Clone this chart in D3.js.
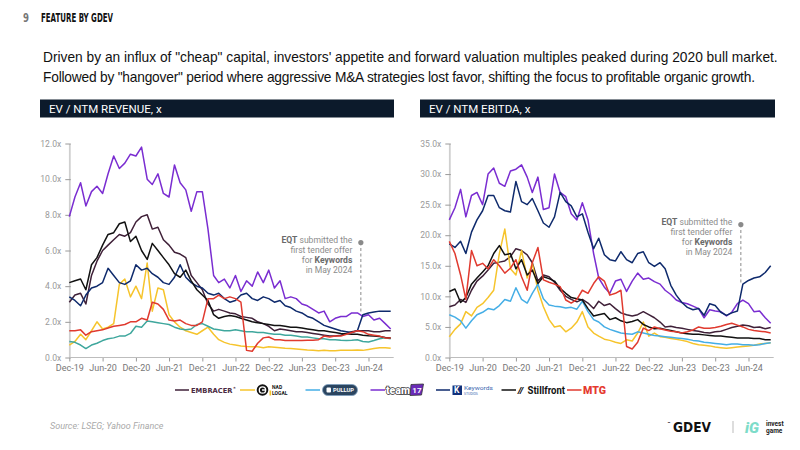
<!DOCTYPE html>
<html><head><meta charset="utf-8">
<script src="https://cdn.jsdelivr.net/npm/d3@7/dist/d3.min.js"></script>
<style>
body{margin:0;background:#fff;}
svg{display:block;font-family:Roboto,"Liberation Sans",Arial,sans-serif;}
</style></head><body>
<svg id="c" width="800" height="450"></svg>
<script>
// ---------------- DATA ----------------
const startDate = new Date(2019, 11, 1);
const dates = d3.timeMonth.range(startDate, new Date(2024, 10, 1)); // Dec-19 .. Oct-24 (59 points)
const tickLabels = ["Dec-19","Jun-20","Dec-20","Jun-21","Dec-21","Jun-22","Dec-22","Jun-23","Dec-23","Jun-24"];
const revTicks = [0, 2, 4, 6, 8, 10, 12];
const ebitdaTicks = [0, 5, 10, 15, 20, 25, 30, 35];
const companies = ["Embracer", "Enad Global 7", "Pullup", "team17", "Keywords Studios", "Stillfront", "MTG"];

// EV / NTM Revenue (x)
const revEmbracer = [3.1,3.5,3.6,3.0,4.6,5.4,6.0,6.3,6.6,6.9, 6.8,7.0,7.6,7.9,8.0,7.2,7.3,6.6,6.3,5.9, 5.8,5.6,4.6,4.2,3.8,3.0,2.6,2.7,2.6,2.5, 2.45,2.3,2.25,2.2,2.0,1.9,1.75,1.5,1.6,1.55, 1.5,1.45,1.45,1.4,1.35,1.3,1.25,1.2,1.2,1.25, 1.35,1.45,1.5,1.5,1.5,1.45,1.45,1.5,1.5];
const revEG7 = [0.7,0.9,1.3,1.0,1.5,2.0,1.6,1.7,1.9,4.1, 4.4,3.4,4.0,3.3,5.3,2.6,3.9,3.8,2.4,2.0, 1.7,1.5,1.4,1.3,1.5,1.7,1.3,1.0,0.85,0.75, 0.7,0.65,0.62,0.6,0.6,0.55,0.6,0.58,0.55,0.52, 0.5,0.48,0.45,0.42,0.4,0.38,0.4,0.38,0.38,0.4, 0.4,0.4,0.42,0.4,0.45,0.5,0.55,0.55,0.52];
const revPullup = [0.9,0.85,0.7,0.5,0.7,0.8,0.95,1.05,1.1,1.2, 1.2,1.35,1.75,1.7,2.05,2.0,1.95,1.9,1.85,1.7, 1.6,1.55,1.6,1.85,1.9,1.75,1.6,1.55,1.5,1.5, 1.55,1.5,1.45,1.45,1.4,1.4,1.35,1.3,1.3,1.25, 1.25,1.2,1.15,1.15,1.1,1.05,1.05,1.0,1.0,0.97, 0.96,0.97,1.0,0.9,0.87,0.95,1.05,1.1,1.05];
const revTeam17 = [7.9,9.0,9.8,8.5,9.3,9.6,9.2,10.3,11.3,10.6, 10.9,11.4,11.3,11.8,10.0,9.7,10.3,9.2,9.0,10.8, 9.8,9.4,8.2,9.3,9.3,7.2,4.6,4.2,4.4,3.9, 4.6,3.7,4.3,4.0,4.8,4.2,4.9,3.9,4.3,3.3, 3.4,3.3,3.0,2.9,2.7,2.5,2.6,2.0,2.2,2.3, 2.3,2.5,2.5,2.3,2.4,2.1,2.2,1.9,1.6];
const revKeywords = [3.4,3.2,2.9,3.5,3.9,4.0,4.2,5.0,4.6,4.2, 4.1,4.3,5.2,4.9,5.0,4.7,4.5,4.2,4.1,4.5, 5.2,4.5,4.2,4.0,3.9,3.6,3.5,3.6,3.3,3.1, 3.2,3.5,3.6,3.3,3.2,3.4,3.3,3.1,3.2,2.9, 2.8,2.6,2.5,2.3,2.2,2.0,1.8,1.7,1.6,1.5, 1.45,1.4,1.5,2.4,2.5,2.55,2.6,2.6,2.6];
const revStillfront = [4.2,4.3,4.4,3.8,5.2,5.6,6.3,6.9,7.0,7.5, 7.6,6.5,6.8,6.0,5.5,6.4,6.0,5.6,5.2,4.7, 4.5,4.9,4.3,3.8,3.5,3.2,2.4,2.2,2.3,2.35, 2.3,2.2,2.1,2.0,1.95,1.9,1.85,1.8,1.8,1.75, 1.7,1.7,1.65,1.6,1.55,1.5,1.5,1.45,1.4,1.35, 1.33,1.3,1.3,1.25,1.22,1.2,1.18,1.12,1.1];
const revMTG = [1.5,1.5,1.55,1.25,1.45,1.5,1.55,1.65,1.75,1.8, 1.85,2.0,2.0,2.2,2.1,3.1,3.0,2.7,2.1,2.05, 2.1,1.9,1.8,1.8,2.0,3.3,3.3,3.5,3.3,3.4, 3.3,3.1,0.4,0.35,0.8,1.1,1.15,1.0,1.0,0.95, 0.95,0.95,0.95,0.97,0.97,1.0,1.2,1.15,1.2,1.2, 1.3,1.4,1.5,1.45,1.3,1.25,1.2,1.1,1.1];

// EV / NTM EBITDA (x)
const ebEmbracer = [8.3,8.6,9.5,9.0,11.0,12.5,13.3,14.3,15.4,15.6, 15.8,16.5,17.8,17.5,16.8,15.5,12.5,13.5,13.2,12.3, 11.0,10.0,9.5,9.1,9.5,8.9,8.0,9.2,8.5,8.8, 8.0,7.3,7.0,6.8,7.0,7.5,7.0,6.5,5.8,5.0, 5.1,4.9,4.8,4.6,4.4,4.3,4.1,4.0,4.2,4.3, 4.6,4.9,5.1,5.3,5.2,4.9,5.0,4.7,4.9];
const ebEG7 = [3.4,4.6,5.5,7.5,6.8,8.2,8.8,9.8,11.0,17.0, 21.0,14.5,13.5,17.5,13.0,15.4,11.0,8.3,6.2,5.0, 5.2,4.2,4.8,5.8,7.5,5.0,4.0,3.5,3.0,2.8, 2.5,2.3,2.9,2.7,4.0,5.8,3.5,4.0,3.4,3.3, 3.1,3.0,2.8,2.6,2.3,2.1,2.0,1.9,1.7,1.6, 1.5,1.6,1.7,1.8,1.9,2.0,2.2,2.3,2.4];
const ebPullup = [7.0,6.6,6.0,4.8,6.0,7.0,7.4,8.0,7.8,8.5, 9.5,9.2,11.4,9.5,8.9,10.5,12.0,9.6,8.6,8.4, 8.3,8.1,8.2,7.9,9.2,7.5,6.2,5.8,5.0,4.6, 4.3,4.0,3.9,3.8,4.2,4.0,3.8,3.6,3.5,3.4, 3.3,3.2,3.1,3.0,2.8,2.7,2.5,2.4,2.3,2.2, 2.1,2.2,2.2,2.1,2.1,2.0,2.1,2.3,2.4];
const ebTeam17 = [22.5,24.5,27.5,23.0,26.5,27.0,25.0,30.0,31.0,28.5, 28.0,30.5,30.8,31.5,29.5,27.0,29.5,24.2,24.5,30.0, 27.0,26.3,23.5,22.5,25.3,22.5,17.0,13.0,11.5,10.5, 12.5,12.8,10.8,12.5,13.8,12.8,13.0,12.4,12.0,11.0, 10.3,9.4,9.0,8.8,8.4,8.0,6.5,7.8,7.6,7.5, 6.8,7.4,8.8,9.4,8.8,7.5,7.6,6.5,5.6];
const ebKeywords = [18.6,18.0,19.0,17.0,20.5,22.5,24.0,26.5,26.5,24.5, 24.0,23.8,28.8,25.5,25.0,26.0,24.0,22.0,21.3,23.0, 27.0,25.5,24.8,23.0,23.5,20.5,17.8,19.5,16.8,16.0, 15.8,17.3,16.0,15.5,17.0,17.3,15.5,14.9,15.5,14.5, 11.8,10.2,9.0,8.2,7.8,8.0,6.9,8.8,8.5,7.4, 6.9,7.3,7.6,12.0,12.6,13.0,13.2,13.9,15.0];
const ebStillfront = [10.8,11.2,9.0,9.8,12.0,13.0,14.0,15.0,17.0,18.3, 16.8,17.0,14.5,16.0,13.5,14.3,12.1,13.2,12.9,12.5, 11.3,10.5,9.8,9.6,9.4,8.0,6.8,7.0,7.2,6.2, 6.5,6.0,5.7,5.9,6.2,5.4,5.0,4.7,4.8,4.6, 4.4,4.2,4.0,3.9,3.8,3.8,3.7,3.6,3.5,3.5, 3.4,3.3,3.2,3.2,3.2,3.1,3.1,2.9,2.9];
const ebMTG = [19.0,17.0,13.5,9.5,17.5,15.0,15.4,14.5,16.0,15.0, 13.8,14.6,16.0,13.2,11.0,15.5,18.0,12.7,12.3,12.0, 11.6,9.4,8.9,9.5,11.0,10.5,12.1,13.2,12.5,10.2, 10.5,11.0,1.8,1.4,2.5,4.8,4.4,5.0,4.7,4.5, 4.3,4.2,4.0,4.2,4.5,5.0,4.8,4.8,4.9,5.1, 5.4,5.6,5.3,5.0,4.6,4.4,4.3,4.2,4.0];

const eqtDate = new Date(2024, 3, 20);

// ---------------- STYLE ----------------
const colors = {Embracer:"#3f2038", EG7:"#f6c42c", PullupL:"#3fa79d", PullupR:"#45aee6", team17:"#7a2dd1", Keywords:"#0e2a6c", Stillfront:"#111111", MTG:"#e03a2f"};

const svg = d3.select("#c");

function fitText(sel, target){
  const n = sel.node(); const fs = parseFloat(sel.attr("font-size"));
  const w = n.getComputedTextLength();
  sel.attr("font-size", (fs * target / w).toFixed(2));
}

// Header
svg.append("text").attr("x",23).attr("y",22).attr("font-size",12).attr("font-weight",700)
  .attr("fill","#777").attr("font-family","'Liberation Sans Narrow','DejaVu Sans Condensed',sans-serif")
  .attr("textLength",6).attr("lengthAdjust","spacingAndGlyphs").text("9");
svg.append("text").attr("x",41).attr("y",22).attr("font-size",12.5).attr("font-weight",700)
  .attr("fill","#111").attr("font-family","'Liberation Sans Narrow','DejaVu Sans Condensed',sans-serif")
  .attr("textLength",72).attr("lengthAdjust","spacingAndGlyphs").text("FEATURE BY GDEV");

const s1 = svg.append("text").attr("x",43).attr("y",62).attr("font-size",14).attr("fill","#111")
  .attr("font-family","'Liberation Sans',Arial,sans-serif")
  .text("Driven by an influx of \"cheap\" capital, investors' appetite and forward valuation multiples peaked during 2020 bull market.");
fitText(s1, 735);
svg.append("text").attr("x",43).attr("y",81.5).attr("font-size",s1.attr("font-size")).attr("fill","#111")
  .attr("font-family","'Liberation Sans',Arial,sans-serif")
  .attr("textLength",712).attr("lengthAdjust","spacing")
  .text("Followed by \"hangover\" period where aggressive M&A strategies lost favor, shifting the focus to profitable organic growth.");

function panel(x, w, title){
  svg.append("rect").attr("x",x).attr("y",99.5).attr("width",w).attr("height",18).attr("fill","#0c1a2b");
  svg.append("text").attr("x",x+9).attr("y",113).attr("font-size",11.5).attr("fill","#fff").text(title);
}
panel(40, 354, "EV / NTM REVENUE, x");
panel(420, 355, "EV / NTM EBITDA, x");

function chart(cfg){
  const x = d3.scaleTime().domain([startDate, new Date(2024,11,1)]).range([cfg.x0, cfg.x0 + 332.5]);
  const y = d3.scaleLinear().domain([0, cfg.yMax]).range([357.5, 143.5]);
  const g = svg.append("g");
  const ya = g.append("g").attr("transform",`translate(${cfg.x0},0)`)
    .call(d3.axisLeft(y).tickValues(cfg.yTicks).tickFormat(d=>d.toFixed(1)+"x").tickSize(5).tickSizeOuter(0));
  ya.select(".domain").attr("stroke","#cfcfcf").attr("stroke-width",1.8);
  ya.selectAll(".tick line").attr("stroke","#9a9a9a").attr("x1",1.5).attr("x2",-4);
  ya.selectAll(".tick text").attr("fill","#9a9a9a").attr("font-size",8.6).attr("x",-8).attr("font-family","Roboto,sans-serif");
  const xa = g.append("g").attr("transform","translate(0,357.5)")
    .call(d3.axisBottom(x).tickValues(tickLabels.map(s=>d3.timeParse("%b-%y")(s))).tickFormat((d,i)=>tickLabels[i]).tickSize(4).tickSizeOuter(0));
  xa.select(".domain").remove();
  xa.append("line").attr("x1",cfg.x0).attr("x2",x(dates[dates.length-1])+3).attr("stroke","#bdbdbd").attr("stroke-width",1.2);
  xa.selectAll(".tick line").attr("stroke","#9a9a9a");
  xa.selectAll(".tick text").attr("fill","#777").attr("font-size",9).attr("font-family","Roboto,sans-serif");
  const line = d3.line().x((d,i)=>x(dates[i])).y(d=>y(d)).curve(d3.curveLinear);
  cfg.series.forEach(s=>{
    g.append("path").datum(s.values).attr("d",line).attr("fill","none")
      .attr("stroke",s.color).attr("stroke-width",1.5).attr("stroke-linejoin","round");
  });
  const ax = x(eqtDate);
  g.append("line").attr("x1",ax).attr("x2",ax).attr("y1",cfg.annY).attr("y2",y(cfg.annEnd))
    .attr("stroke","#8a8a8a").attr("stroke-width",1).attr("stroke-dasharray","3,2.5");
  g.append("circle").attr("cx",ax).attr("cy",cfg.annY).attr("r",2.6).attr("fill","#8a8a8a");
  const lines = [[["EQT",true],[" submitted the",false]],[["first tender offer",false]],[["for ",false],["Keywords",true]],[["in May 2024",false]]];
  lines.forEach((parts,i)=>{
    const t = g.append("text").attr("x",ax-8.5).attr("y",cfg.annY+0.5+i*9.9).attr("text-anchor","end")
      .attr("font-size",8.6).attr("fill","#8c8c8c");
    parts.forEach(p=>t.append("tspan").attr("font-weight",p[1]?700:400).attr("fill",p[1]?"#6a6a6a":"#8c8c8c").text(p[0]));
  });
}

chart({x0:69.3, yMax:12, yTicks:revTicks, annY:242.5, annEnd:2.5, series:[
  {values:revEmbracer,color:colors.Embracer},{values:revEG7,color:colors.EG7},{values:revPullup,color:colors.PullupL},
  {values:revTeam17,color:colors.team17},{values:revKeywords,color:colors.Keywords},{values:revStillfront,color:colors.Stillfront},
  {values:revMTG,color:colors.MTG}]});
chart({x0:449.3, yMax:35, yTicks:ebitdaTicks, annY:224.5, annEnd:12.2, series:[
  {values:ebEmbracer,color:colors.Embracer},{values:ebEG7,color:colors.EG7},{values:ebPullup,color:colors.PullupR},
  {values:ebTeam17,color:colors.team17},{values:ebKeywords,color:colors.Keywords},{values:ebStillfront,color:colors.Stillfront},
  {values:ebMTG,color:colors.MTG}]});

// ---------------- LEGEND ----------------
const ly = 390;
const lg = svg.append("g");
function lline(x1,x2,c){ lg.append("line").attr("x1",x1).attr("x2",x2).attr("y1",ly).attr("y2",ly).attr("stroke",c).attr("stroke-width",1.5); }
lline(175,189,colors.Embracer);
const emb = lg.append("text").attr("x",191).attr("y",ly+3).attr("font-size",8).attr("font-weight",700)
  .attr("fill","#4a2a42").attr("font-family","'DejaVu Sans',sans-serif").text("EMBRACER");
fitText(emb, 41.5);
emb.append("tspan").attr("dx",0.8).attr("dy",-3.5).attr("font-size",4.5).text("*");
lline(240,255,colors.EG7);
lg.append("circle").attr("cx",262.5).attr("cy",ly).attr("r",5.8).attr("fill","#111");
lg.append("circle").attr("cx",262.5).attr("cy",ly).attr("r",3.2).attr("fill","none").attr("stroke","#fff").attr("stroke-width",1.3);
lg.append("rect").attr("x",262).attr("y",ly-0.7).attr("width",4).attr("height",1.4).attr("fill","#fff");
lg.append("rect").attr("x",269.5).attr("y",ly+0.5).attr("width",1.6).attr("height",5).attr("fill",colors.EG7);
const eg = lg.append("text").attr("x",272).attr("y",ly-1.2).attr("font-size",5).attr("font-weight",700).attr("fill","#111");
eg.append("tspan").attr("x",272).text("NAD");
eg.append("tspan").attr("x",272).attr("dy",5.8).text("LOGAL");
lline(305.5,320,colors.PullupR);
lg.append("rect").attr("x",322.5).attr("y",ly-5.5).attr("width",35).attr("height",11).attr("rx",5.5)
  .attr("fill","#2b4560").attr("stroke","#7fa0bf").attr("stroke-width",0.8);
lg.append("rect").attr("x",326.5).attr("y",ly-2.5).attr("width",4.5).attr("height",5).attr("rx",1).attr("fill","#fff");
lg.append("text").attr("x",333).attr("y",ly+2.3).attr("font-size",6.2).attr("font-weight",700).attr("fill","#fff")
  .attr("textLength",21).attr("lengthAdjust","spacingAndGlyphs").text("PULLUP");
lline(370.5,385,colors.team17);
lg.append("text").attr("x",386).attr("y",ly+4).attr("font-size",11).attr("font-weight",900).attr("fill","#fff")
  .attr("stroke","#333").attr("stroke-width",1.4).attr("paint-order","stroke")
  .attr("textLength",24).attr("lengthAdjust","spacingAndGlyphs").text("team");
lg.append("path").attr("d",`M${411},${ly-5.5} L${423.5},${ly-6} L${421.5},${ly+5} L${410},${ly+5.5} Z`).attr("fill","#6a2bb8").attr("stroke","#333").attr("stroke-width",0.8);
lg.append("text").attr("x",412.3).attr("y",ly+3.3).attr("font-size",8).attr("font-weight",700).attr("fill","#fff").text("17");
lline(436,450,colors.Keywords);
lg.append("rect").attr("x",452.5).attr("y",ly-4.5).attr("width",9.5).attr("height",9.5).attr("fill","#10307a");
lg.append("text").attr("x",454).attr("y",ly+3.3).attr("font-size",8.5).attr("font-weight",700).attr("fill","#fff").text("K");
const kw = lg.append("text").attr("fill","#3a66b0");
kw.append("tspan").attr("x",464).attr("y",ly+0.3).attr("font-size",6)
  .attr("textLength",29).attr("lengthAdjust","spacingAndGlyphs").text("Keywords");
kw.append("tspan").attr("x",464).attr("y",ly+5.2).attr("font-size",3.4).text("STUDIOS");
lline(501.5,516,colors.Stillfront);
const sf = lg.append("text").attr("x",518).attr("y",ly+3.6).attr("fill","#111").attr("font-weight",700);
sf.append("tspan").attr("font-size",9.5).attr("font-weight",900).attr("font-style","italic").text("//");
sf.append("tspan").attr("x",527.5).attr("font-size",10).attr("textLength",37.5).attr("lengthAdjust","spacingAndGlyphs").text("Stillfront");
lline(567,581.5,colors.MTG);
lg.append("text").attr("x",583).attr("y",ly+4).attr("font-size",11.5).attr("font-weight",900).attr("fill","#e53a2f")
  .attr("textLength",23).attr("lengthAdjust","spacingAndGlyphs").text("MTG");

// ---------------- FOOTER ----------------
svg.append("text").attr("x",50).attr("y",429).attr("font-size",9).attr("font-style","italic").attr("fill","#a9a9a9").text("Source: LSEG; Yahoo Finance");
const gdev = svg.append("text").attr("x",667).attr("y",432).attr("fill","#111").attr("font-weight",700);
gdev.append("tspan").attr("font-size",8).attr("dy",-4).text("ˆ");
gdev.append("tspan").attr("x",673).attr("dy",4).attr("font-size",14)
  .attr("font-family","'Liberation Sans Narrow','DejaVu Sans Condensed',sans-serif")
  .attr("textLength",38).attr("lengthAdjust","spacingAndGlyphs").text("GDEV");
svg.append("line").attr("x1",733).attr("x2",733).attr("y1",421).attr("y2",433).attr("stroke","#bbb").attr("stroke-width",1);
svg.append("text").attr("x",745).attr("y",433).attr("font-size",15).attr("font-weight",900).attr("font-style","italic").attr("fill","#7ddcc9").text("iG");
const ig = svg.append("text").attr("font-size",6.5).attr("font-weight",700).attr("fill","#222");
ig.append("tspan").attr("x",766).attr("y",426).text("invest");
ig.append("tspan").attr("x",766).attr("y",433).text("game");
</script>
</body></html>
